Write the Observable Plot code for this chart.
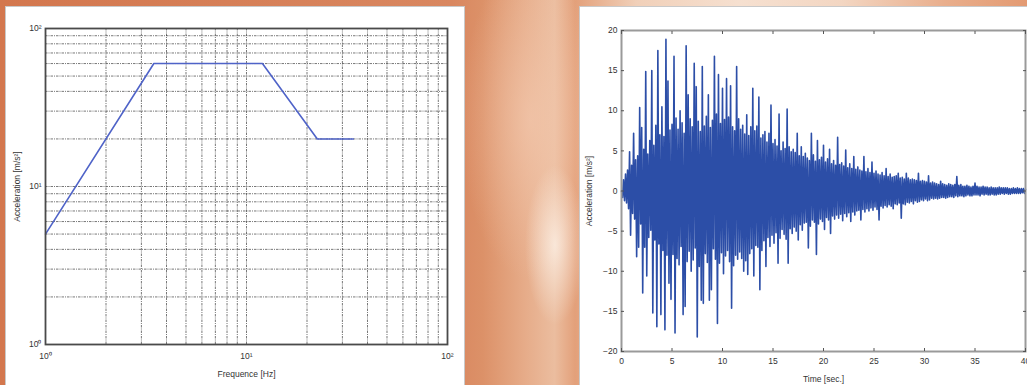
<!DOCTYPE html>
<html>
<head>
<meta charset="utf-8">
<script src="https://cdn.jsdelivr.net/npm/d3@7"></script>
<script src="https://cdn.jsdelivr.net/npm/@observablehq/plot@0.6"></script>
<style>
html,body{margin:0;padding:0;width:1027px;height:385px;overflow:hidden;}
body{position:relative;font-family:"Liberation Sans",Arial,sans-serif;
 background:
  radial-gradient(ellipse 30px 80px at 555px 245px, rgba(255,248,240,0.7), rgba(255,248,240,0) 100%),
  radial-gradient(ellipse 70px 160px at 530px 120px, rgba(245,205,180,0.6), rgba(245,205,180,0) 100%),
  linear-gradient(90deg,#d3774e 0%,#d98760 44%,#dc9168 47%,#e6ab88 51%,#ebbd9f 54%,#e3a07a 56%,#f1d0b9 62%,#f6e0d0 72%,#f3d6c2 82%,#e9ae8c 92%,#e39a72 100%);}
.panel{position:absolute;background:#fff;border:1px solid #c9c9c9;box-sizing:border-box;}
#p1{left:5px;top:6px;width:460px;height:392px;}
#p2{left:579px;top:6px;width:460px;height:392px;}
#c1{position:absolute;left:0;top:0;}
#c2{position:absolute;left:579px;top:0;}
</style>
</head>
<body>
<div class="panel" id="p1"></div>
<div class="panel" id="p2"></div>
<div id="c1"></div>
<div id="c2"></div>
<script>
// ---- Left chart: test spectrum (log-log) ----
const specFreq = [1, 3.46, 12, 22.5, 34];
const specAcc = [5, 60, 60, 20, 20];
const freqTicks = [1, 10, 100];
const accTicks = [1, 10, 100];
const freqGrid = [2, 3, 4, 5, 6, 7, 8, 9, 10, 20, 30, 40, 50, 60, 70, 80, 90];
const accGrid = [2, 3, 4, 5, 6, 7, 8, 9, 10, 20, 30, 40, 50, 60, 70, 80, 90];
const powLabels = {1: "10⁰", 10: "10¹", 100: "10²"};

// ---- Right chart: acceleration time history ----
const timeStep = 0.1;
const accel = [
  0, -0.8, 1.4, -1.2, 2.1, -1.5, 2.6, -2.2, 4.9, -5.5,
  3.2, -2.8, 7.2, -3.5, 3.9, -8.2, 4.4, -7.0, 10.4, -4.1,
  7.9, -12.7, 5.2, -7.0, 14.9, -10.6, 4.6, -5.8, 6.3, -4.9,
  15.0, -15.2, 5.7, -6.1, 8.2, -16.9, 17.5, -6.6, 7.0, -15.4,
  10.5, -7.4, 6.8, -17.3, 18.9, -8.0, 13.7, -11.5, 7.6, -13.5,
  8.3, -7.9, 16.8, -17.7, 9.1, -8.4, 7.7, -9.2, 10.0, -6.9,
  8.5, -15.4, 7.2, -14.4, 18.1, -8.8, 12.0, -7.5, 9.0, -10.0,
  8.0, -8.6, 15.9, -7.1, 13.0, -18.2, 8.7, -9.4, 7.4, -13.6,
  15.5, -14.0, 8.1, -7.8, 9.3, -8.9, 12.0, -13.6, 7.9, -12.3,
  8.8, -7.2, 16.8, -8.5, 9.6, -16.5, 14.5, -9.0, 8.4, -7.7,
  12.8, -10.3, 8.9, -8.1, 14.0, -7.4, 9.2, -8.8, 13.1, -14.6,
  8.0, -9.3, 7.5, -8.0, 15.5, -8.5, 9.0, -7.6, 7.7, -8.4,
  8.2, -10.0, 7.1, -8.7, 9.5, -10.4, 6.9, -7.8, 8.0, -7.2,
  12.8, -10.6, 7.5, -6.8, 8.1, -7.0, 11.7, -12.3, 6.6, -7.4,
  7.0, -6.2, 7.4, -9.4, 6.1, -5.8, 7.2, -6.9, 10.7, -5.5,
  5.9, -6.5, 6.4, -5.2, 5.6, -9.0, 9.6, -5.9, 5.0, -4.8,
  6.1, -5.4, 5.3, -6.0, 10.2, -9.0, 5.5, -4.7, 4.9, -5.3,
  5.2, -4.5, 4.8, -5.0, 7.2, -6.1, 4.4, -4.2, 5.5, -4.9,
  4.3, -4.0, 4.7, -3.9, 4.1, -7.1, 3.8, -4.4, 7.2, -3.6,
  4.5, -3.9, 3.7, -7.9, 6.3, -4.1, 3.9, -3.5, 4.2, -3.8,
  5.7, -4.8, 3.6, -3.3, 4.0, -3.6, 5.2, -5.3, 3.4, -3.1,
  3.8, -3.5, 3.2, -3.0, 6.7, -3.4, 3.3, -2.9, 3.5, -3.7,
  3.1, -2.8, 5.1, -3.2, 2.9, -2.7, 3.4, -3.8, 2.8, -2.6,
  4.3, -3.0, 2.7, -2.5, 3.0, -2.4, 2.6, -3.6, 2.5, -2.3,
  4.3, -2.6, 2.4, -2.2, 2.8, -2.5, 2.3, -2.1, 3.6, -2.4,
  2.2, -2.0, 2.5, -2.3, 2.1, -3.6, 2.0, -1.9, 2.3, -2.1,
  1.9, -1.8, 2.8, -2.0, 1.8, -1.7, 2.1, -1.9, 1.7, -2.2,
  1.8, -1.6, 1.9, -1.7, 2.2, -1.5, 1.6, -3.4, 1.7, -1.6,
  1.5, -1.7, 2.2, -1.4, 1.6, -1.5, 1.4, -1.3, 1.5, -1.6,
  1.4, -1.2, 1.3, -1.4, 2.2, -1.3, 1.2, -1.1, 1.3, -1.2,
  1.2, -1.0, 1.1, -1.2, 1.9, -1.1, 1.0, -0.9, 1.1, -1.0,
  1.0, -0.9, 0.9, -1.0, 0.8, -0.9, 1.2, -0.8, 0.9, -0.8,
  0.8, -0.9, 0.7, -0.8, 0.9, -0.7, 0.8, -0.7, 0.7, -0.8,
  0.8, -0.6, 1.8, -0.7, 0.7, -0.6, 0.8, -0.6, 0.6, -0.7,
  0.6, -0.6, 0.7, -0.5, 0.6, -0.6, 0.5, -0.6, 0.6, -0.5,
  1.0, -0.5, 0.6, -0.5, 0.5, -0.6, 0.5, -0.4, 0.6, -0.5,
  0.5, -0.4, 0.5, -0.5, 0.4, -0.5, 0.5, -0.4, 0.4, -0.5,
  0.4, -0.5, 0.4, -0.4, 0.5, -0.4, 0.4, -0.3, 0.4, -0.4,
  0.4, -0.3, 0.4, -0.4, 0.3, -0.4, 0.3, -0.3, 0.4, -0.3,
  0.3, -0.3, 0.4, -0.3, 0.3, -0.3, 0.3, -0.2, 0.3, -0.3,
  0.2
];
const timeTicks = [0, 5, 10, 15, 20, 25, 30, 35, 40];
const accelTicks = [-20, -15, -10, -5, 0, 5, 10, 15, 20];

const font = {background: "transparent", fontFamily: "'Liberation Sans', Arial, sans-serif", fontSize: "8.5px", color: "#333"};

const spec = specFreq.map((f, i) => ({f, a: specAcc[i]}));
const gridStyle = {stroke: "#2a2a2a", strokeOpacity: 0.7, strokeWidth: 0.9, strokeDasharray: "2.5,1,1,1"};

const left = Plot.plot({
  width: 470, height: 385,
  marginLeft: 45, marginRight: 23, marginTop: 28, marginBottom: 41,
  style: font,
  x: {type: "log", domain: [1, 100]},
  y: {type: "log", domain: [1, 100]},
  marks: [
    Plot.ruleX(freqGrid, gridStyle),
    Plot.ruleY(accGrid, gridStyle),
    Plot.line(spec, {x: "f", y: "a", stroke: "#4f63c8", strokeWidth: 1.6}),
    Plot.frame({stroke: "#4a4a4a", strokeWidth: 1.8}),
    Plot.axisX(freqTicks, {tickSize: 0, tickPadding: 8, tickFormat: d => powLabels[d], label: "Frequence [Hz]", labelAnchor: "center", labelOffset: 32, labelArrow: "none"}),
    Plot.axisY(accTicks, {tickSize: 0, tickPadding: 4, tickFormat: d => powLabels[d], label: "Acceleration [m/s²]", labelAnchor: "center", labelOffset: 32, labelArrow: "none"})
  ]
});
document.getElementById("c1").append(left);

const series = accel.map((v, i) => ({t: +(i * timeStep).toFixed(2), v}));
const right = Plot.plot({
  width: 448, height: 385,
  marginLeft: 42, marginRight: 2, marginTop: 30, marginBottom: 34,
  style: font,
  x: {domain: [0, 40]},
  y: {domain: [-20, 20]},
  marks: [
    Plot.line(series, {x: "t", y: "v", stroke: "#1a3f9f", strokeWidth: 1.6, strokeOpacity: 0.92}),
    Plot.frame({stroke: "#9a9a9a", strokeWidth: 2}),
    Plot.axisX(timeTicks, {anchor: "bottom", tickSize: -3, tickPadding: 9, stroke: "#555", label: "Time [sec.]", labelAnchor: "center", labelOffset: 30, labelArrow: "none"}),
    Plot.axisX(timeTicks, {anchor: "top", tickSize: -3, stroke: "#555", tickFormat: () => "", label: null}),
    Plot.axisY(accelTicks, {anchor: "left", tickSize: -3, tickPadding: 7, stroke: "#555", label: "Acceleration [m/s²]", labelAnchor: "center", labelOffset: 36, labelArrow: "none"}),
    Plot.axisY(accelTicks, {anchor: "right", tickSize: -3, stroke: "#555", tickFormat: () => "", label: null})
  ]
});
document.getElementById("c2").append(right);
</script>
</body>
</html>
